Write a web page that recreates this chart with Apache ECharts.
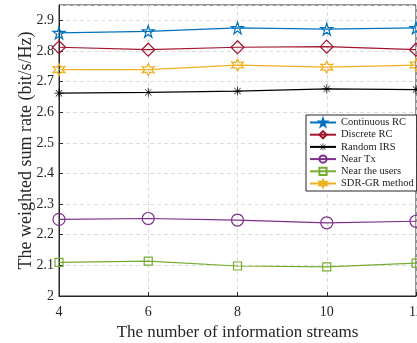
<!DOCTYPE html>
<html><head><meta charset="utf-8">
<script src="https://cdn.jsdelivr.net/npm/echarts@6/dist/echarts.min.js"></script>
<style>html,body{margin:0;padding:0;background:#fff}#c{width:417px;height:343px}</style>
</head><body><div id="c"></div>
<script>
var streams = [4, 6, 8, 10, 12];
var continuousRC = [2.859, 2.864, 2.875, 2.871, 2.875];
var discreteRC = [2.812, 2.804, 2.812, 2.814, 2.804];
var randomIRS = [2.662, 2.665, 2.669, 2.676, 2.674];
var nearTx = [2.250, 2.253, 2.248, 2.239, 2.244];
var nearUsers = [2.110, 2.114, 2.098, 2.095, 2.107];
var sdrGR = [2.739, 2.739, 2.754, 2.747, 2.754];
var seriesNames = ['Continuous RC','Discrete RC','Random IRS','Near Tx','Near the users','SDR-GR method'];

var star = 'path://M50,2 L61,37 L98,37 L68,59 L79,95 L50,73 L21,95 L32,59 L2,37 L39,37 Z';
var hexa = 'path://M50,0 L62,29 L93,25 L75,50 L93,75 L62,71 L50,100 L38,71 L7,75 L25,50 L7,25 L38,29 Z';
var aster = 'path://M46,0 L54,0 L54,100 L46,100 Z M0,46 L100,46 L100,54 L0,54 Z M12,17 L17,12 L88,83 L83,88 Z M83,12 L88,17 L17,88 L12,83 Z';

function mk(name, data, color, symbol, size, filled) {
  return {
    name: name, type: 'line', data: streams.map(function(x,i){return [x, data[i]];}),
    symbol: symbol, symbolSize: size, showSymbol: true, clip: false,
    lineStyle: {color: color, width: 1.2},
    itemStyle: {color: filled ? color : 'rgba(255,255,255,0)', borderColor: color, borderWidth: filled ? 0 : 1.2},
    color: color, z: 3
  };
}
var font = 'Liberation Serif';
var chart = echarts.init(document.getElementById('c'), null, {renderer: 'canvas'});
chart.setOption({
  animation: false,
  backgroundColor: '#fff',
  grid: {left: 59, right: 1, top: 5, bottom: 47, show: true, borderColor: '#262626', borderWidth: 1,
         containLabel: false, outerBoundsMode: 'none'},
  legend: {
    orient: 'vertical', left: 306, top: 115, itemWidth: 26, itemHeight: 9, itemGap: 1.2,
    padding: [2, 3, 2, 3], borderColor: '#262626', borderWidth: 1, backgroundColor: '#fff',
    textStyle: {fontFamily: font, fontSize: 10.5, lineHeight: 11, color: '#222'},
    data: seriesNames
  },
  xAxis: {
    type: 'value', min: 4, max: 12, interval: 2,
    name: 'The number of information streams', nameLocation: 'middle', nameGap: 25,
    nameTextStyle: {fontFamily: font, fontSize: 17, color: '#262626'},
    axisLine: {show: true, lineStyle: {color: '#262626'}},
    axisTick: {inside: true, length: 4, lineStyle: {color: '#262626'}},
    axisLabel: {fontFamily: font, fontSize: 14, color: '#262626', margin: 9, hideOverlap: false},
    splitLine: {show: true, lineStyle: {type: [4, 3], color: '#dcdcdc'}}
  },
  yAxis: {
    type: 'value', min: 2, max: 2.95, interval: 0.1,
    name: 'The weighted sum rate (bit/s/Hz)', nameLocation: 'middle', nameGap: 24, nameMoveOverlap: false,
    nameTextStyle: {fontFamily: font, fontSize: 18, color: '#262626'},
    axisLine: {show: true, lineStyle: {color: '#262626'}},
    axisTick: {inside: true, length: 4, lineStyle: {color: '#262626'}},
    axisLabel: {fontFamily: font, fontSize: 14, color: '#262626', margin: 5, showMaxLabel: false,
      formatter: function(v){ return +v.toFixed(1) + ''; }},
    splitLine: {show: true, lineStyle: {type: [4, 3], color: '#dcdcdc'}}
  },
  series: [
    mk(seriesNames[0], continuousRC, '#0072BD', star, 12, false),
    mk(seriesNames[1], discreteRC, '#A2142F', 'diamond', 13, false),
    mk(seriesNames[2], randomIRS, '#000000', aster, 9, true),
    mk(seriesNames[3], nearTx, '#7E2F8E', 'circle', 12, false),
    mk(seriesNames[4], nearUsers, '#77AC30', 'rect', 8, false),
    mk(seriesNames[5], sdrGR, '#EDB120', hexa, 12, false)
  ]
});
</script></body></html>
